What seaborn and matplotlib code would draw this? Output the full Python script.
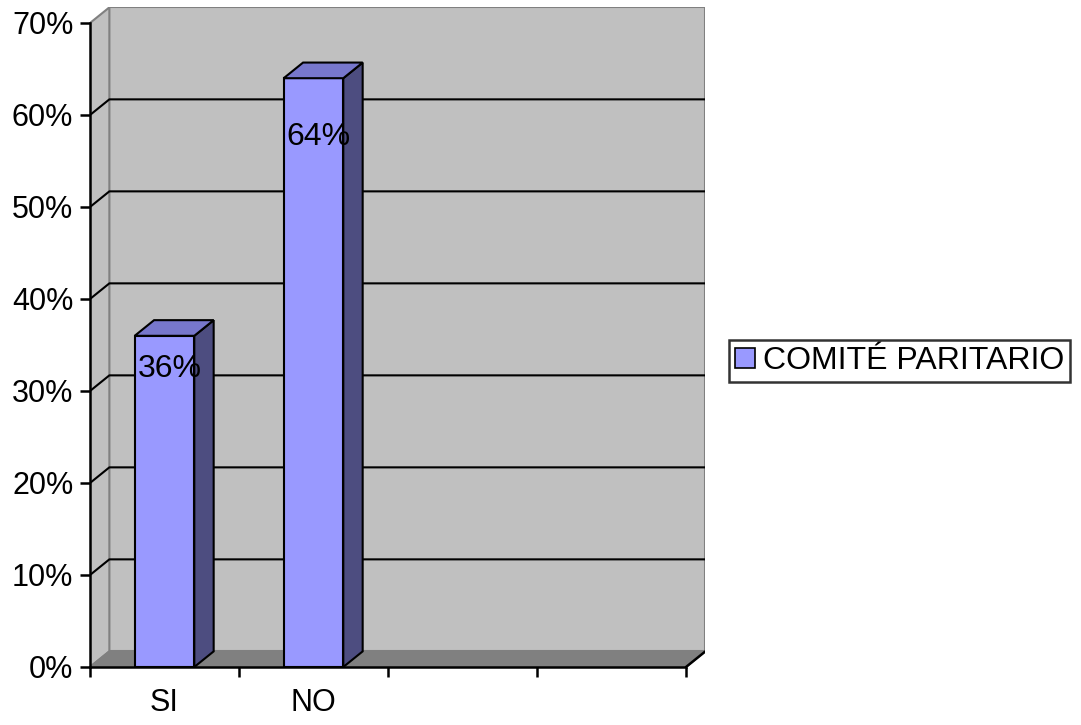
import numpy as np
import pandas as pd
import seaborn as sns
import matplotlib.pyplot as plt
from matplotlib.patches import Polygon, Patch

# datos del grafico
categorias = ["SI", "NO"]
valores = [36, 64]
serie = "COMITÉ PARITARIO"
n_slots = 4
yticks = [0, 10, 20, 30, 40, 50, 60, 70]

sns.set_style("white")
plt.rcParams['font.family'] = ['Liberation Sans', 'DejaVu Sans']
plt.rcParams['text.color'] = 'black'
plt.rcParams['xtick.color'] = 'black'
plt.rcParams['ytick.color'] = 'black'
plt.rcParams['xtick.labelcolor'] = 'black'
plt.rcParams['ytick.labelcolor'] = 'black'

df = pd.DataFrame({"cat": categorias, "val": valores})

W, H = 1081, 725
fig = plt.figure(figsize=(W / 100, H / 100), dpi=100)

# profundidad 3D en unidades de datos
dx, dy = 0.13, 1.7
px_x = (686 - 90) / n_slots
px_y = (667 - 23) / 70
ax = fig.add_axes([90 / W, (H - 667) / H,
                   (n_slots + dx) * px_x / W, (70 + dy) * px_y / H])

front = "#9999FF"
top_c = "#7777CC"
side_c = "#4D4D80"
wall = "#C0C0C0"
floor_c = "#808080"
fs = 22

sns.barplot(data=df, x="cat", y="val", ax=ax, color=front, width=0.4,
            saturation=1, edgecolor="black", linewidth=1.5, zorder=3)

x0, x1 = -0.5, n_slots - 0.5
ymax = yticks[-1]

# paredes y piso
ax.add_patch(Polygon([(x0 + dx, dy), (x1 + dx, dy), (x1 + dx, ymax + dy), (x0 + dx, ymax + dy)],
                     closed=True, facecolor=wall, edgecolor=floor_c, lw=1.5, zorder=0.5))
ax.add_patch(Polygon([(x0, 0), (x0, ymax), (x0 + dx, ymax + dy), (x0 + dx, dy)],
                     closed=True, facecolor=wall, edgecolor=floor_c, lw=1.5, zorder=0.5))
for t in yticks[1:-1]:
    ax.plot([x0, x0 + dx, x1 + dx], [t, t + dy, t + dy], color="black", lw=1.5, zorder=0.8)
ax.add_patch(Polygon([(x0, 0), (x1, 0), (x1 + dx, dy), (x0 + dx, dy)],
                     closed=True, facecolor=floor_c, edgecolor=floor_c, lw=1.5, zorder=1))
ax.plot([x1, x1 + dx], [0, dy], color="black", lw=1.8, zorder=1.1)

# caras laterales y superiores de las barras
for p, v in zip(ax.patches[:len(valores)], valores):
    bx, bw, bh = p.get_x(), p.get_width(), p.get_height()
    ax.add_patch(Polygon([(bx + bw, 0), (bx + bw + dx, dy), (bx + bw + dx, bh + dy), (bx + bw, bh)],
                         closed=True, facecolor=side_c, edgecolor="black", lw=1.5, zorder=3))
    ax.add_patch(Polygon([(bx, bh), (bx + bw, bh), (bx + bw + dx, bh + dy), (bx + dx, bh + dy)],
                         closed=True, facecolor=top_c, edgecolor="black", lw=1.5, zorder=3))
    ax.annotate(f"{v}%", (bx + bw / 2, bh * 0.9), xytext=(3.5, 0), textcoords="offset points",
                ha="center", va="center", fontsize=fs + 1, color="black", zorder=4)

ax.set_xlim(x0, x1 + dx)
ax.set_ylim(0, ymax + dy)

for s in ["top", "right"]:
    ax.spines[s].set_visible(False)
ax.spines["left"].set_bounds(0, ymax)
ax.spines["bottom"].set_bounds(x0, x1)
for s in ["left", "bottom"]:
    ax.spines[s].set_linewidth(1.8)
    ax.spines[s].set_color("black")
    ax.spines[s].set_zorder(5)

ax.set_yticks(yticks)
ax.set_yticklabels([f"{t}%" for t in yticks], fontsize=fs)
ax.set_xticks(np.arange(x0, x1 + 0.01, 1.0))
ax.set_xticklabels([])
ax.set_xticks(range(len(categorias)), minor=True)
ax.set_xticklabels(categorias, minor=True, fontsize=fs)
ax.tick_params(axis="y", which="major", direction="out", length=7, width=1.8, pad=5, left=True)
ax.tick_params(axis="x", which="major", direction="out", length=7, width=1.8, bottom=True)
ax.tick_params(axis="x", which="minor", length=0, pad=15)
ax.set_xlabel("")
ax.set_ylabel("")

fig.legend(handles=[Patch(facecolor=front, edgecolor="black", lw=1.2, label=serie)],
           loc="center left", bbox_to_anchor=(729 / W, (H - 361) / H),
           fontsize=fs + 1, frameon=True, fancybox=False, edgecolor="black",
           handlelength=0.6, handleheight=0.6, handletextpad=0.25, borderpad=0.2,
           borderaxespad=0).get_frame().set_linewidth(1.8)

fig.savefig("out.png", dpi=100)
